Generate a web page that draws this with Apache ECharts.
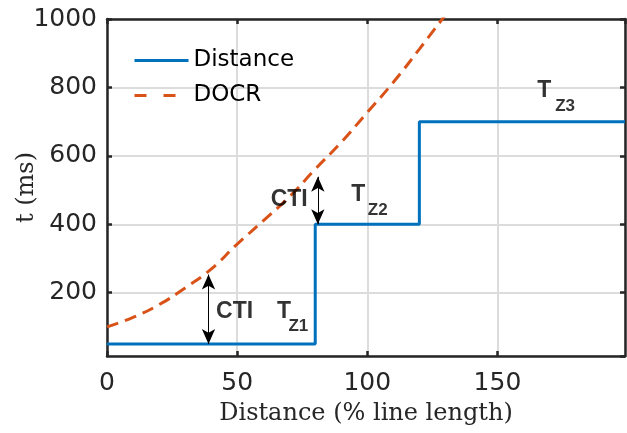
<!DOCTYPE html>
<html>
<head>
<meta charset="utf-8">
<script src="https://cdn.jsdelivr.net/npm/echarts@6/dist/echarts.min.js"></script>
<style>
  html, body { margin: 0; padding: 0; background: #fff; }
  #chart { width: 627px; height: 433px; }
</style>
</head>
<body>
<div id="chart"></div>
<script>
// distance relay zones (step)
const distX = [0, 80, 80, 120, 120, 199];
const distT = [50, 50, 400, 400, 700, 700];

// DOCR curve
const docrX = [0, 10, 20, 30, 40, 50, 60, 70, 80, 90, 100, 110, 120, 130];
const docrT = [100, 128, 165, 214, 269, 342, 410, 480, 561, 640, 727, 815, 912, 1012];

// CTI arrows: [x, t bottom, t top]
const ctiArrows = [[39, 50, 253], [81, 400, 539]];

// annotation text: [x, t, text]
const bigLabels = [[49, 144, 'CTI'], [68, 144, 'T'], [70, 473, 'CTI'], [96.5, 486, 'T'], [168, 792, 'T']];
const subLabels = [[73.5, 101, 'Z1'], [104, 440, 'Z2'], [176, 746, 'Z3']];

const xMin = 0, xMax = 199, xStep = 50;
const yMin = 15, yMax = 1000;

const ink = '#262626';
const sans = 'DejaVu Sans, Arial, sans-serif';
const bold = 'Liberation Sans, Arial, sans-serif';
const serif = 'DejaVu Serif, Times New Roman, serif';

const chart = echarts.init(document.getElementById('chart'));

const frameLine = { show: true, onZero: false, lineStyle: { color: ink, width: 2.5 } };
const inTicks = { show: true, inside: true, length: 5, lineStyle: { color: ink, width: 2.5 } };

const xBase = { type: 'value', min: xMin, max: xMax, interval: xStep, axisLine: frameLine, axisTick: inTicks };
const yBase = { type: 'value', min: yMin, max: yMax, splitNumber: 5, axisLine: frameLine, axisTick: inTicks };

chart.setOption({
  animation: false,
  grid: { left: 107, right: 2, top: 19, bottom: 77, containLabel: false, outerBoundsMode: 'none' },
  legend: {
    data: [
      { name: 'Distance' },
      { name: 'DOCR', lineStyle: { type: [12, 17] } }
    ],
    orient: 'vertical',
    left: 133,
    top: 49,
    padding: 0,
    itemWidth: 54,
    itemHeight: 14,
    itemGap: 12,
    lineStyle: { width: 3 },
    itemStyle: { color: 'transparent', borderColor: 'transparent', borderWidth: 0 },
    textStyle: { fontFamily: sans, fontSize: 23, color: '#000' }
  },
  xAxis: [
    Object.assign({}, xBase, {
      position: 'bottom',
      name: 'Distance (% line length)',
      nameLocation: 'middle',
      nameGap: 46,
      nameMoveOverlap: false,
      nameTextStyle: { fontFamily: serif, fontSize: 24, color: ink },
      axisLabel: { show: true, margin: 15, showMaxLabel: false, fontFamily: sans, fontSize: 25, color: ink },
      splitLine: { show: true, lineStyle: { color: '#dcdcdc', width: 2 } }
    }),
    Object.assign({}, xBase, { position: 'top', axisLabel: { show: false }, splitLine: { show: false } })
  ],
  yAxis: [
    Object.assign({}, yBase, {
      position: 'left',
      name: 't (ms)',
      nameLocation: 'middle',
      nameGap: 68,
      nameMoveOverlap: false,
      nameTextStyle: { fontFamily: serif, fontSize: 24, color: ink },
      axisLabel: {
        show: true, margin: 10, showMinLabel: false,
        formatter: v => String(v),
        fontFamily: sans, fontSize: 25, color: ink
      },
      splitLine: { show: true, lineStyle: { color: '#dcdcdc', width: 2 } }
    }),
    Object.assign({}, yBase, { position: 'right', axisLabel: { show: false }, splitLine: { show: false } })
  ],
  series: [
    {
      name: 'Distance',
      type: 'line',
      data: distX.map((x, i) => [x, distT[i]]),
      showSymbol: false,
      symbol: 'none',
      clip: true,
      lineStyle: { color: '#0072BD', width: 3 },
      itemStyle: { color: '#0072BD' },
      z: 3
    },
    {
      name: 'DOCR',
      type: 'line',
      data: docrX.map((x, i) => [x, docrT[i]]),
      smooth: true,
      showSymbol: false,
      symbol: 'none',
      clip: true,
      lineStyle: { color: '#D95319', width: 3, type: [12, 7] },
      itemStyle: { color: '#D95319' },
      z: 3
    },
    {
      name: 'arrows',
      type: 'line',
      data: [],
      markLine: {
        silent: true,
        symbol: ['arrow', 'arrow'],
        symbolSize: [10, 15],
        label: { show: false },
        lineStyle: { color: '#000', width: 1, type: 'solid' },
        data: ctiArrows.map(a => [{ coord: [a[0], a[1]] }, { coord: [a[0], a[2]] }])
      },
      z: 4
    },
    {
      name: 'notes',
      type: 'scatter',
      symbolSize: 0,
      silent: true,
      data: bigLabels,
      label: {
        show: true, position: 'inside',
        formatter: p => p.value[2],
        fontFamily: bold, fontWeight: 'bold', fontSize: 23, color: '#000'
      },
      z: 5
    },
    {
      name: 'subs',
      type: 'scatter',
      symbolSize: 0,
      silent: true,
      data: subLabels,
      label: {
        show: true, position: 'inside',
        formatter: p => p.value[2],
        fontFamily: bold, fontWeight: 'bold', fontSize: 17, color: '#000'
      },
      z: 5
    }
  ]
});

window.addEventListener('resize', () => chart.resize());
</script>
</body>
</html>
